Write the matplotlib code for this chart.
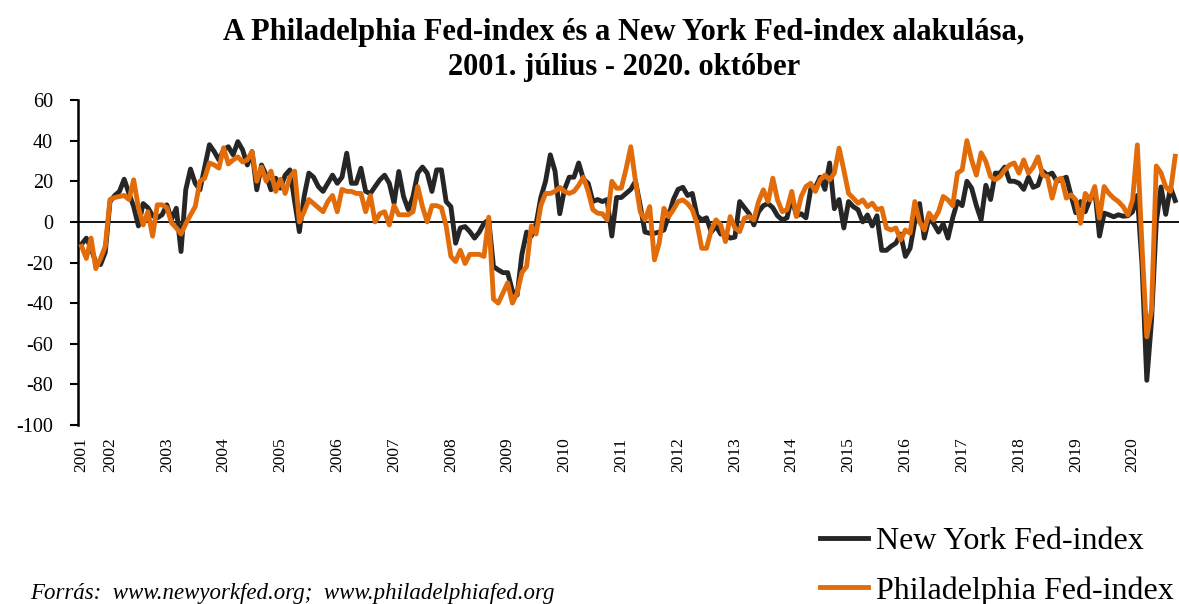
import matplotlib
matplotlib.use("Agg")
import matplotlib.pyplot as plt
import numpy as np

# Monthly data, 2001 July - 2020 October
ny_fed = [
    # 2001 Jul-Dec
    -11, -8, -13, -20, -21, -15,
    # 2002
    10, 13, 15, 21, 14, 7.5, -2, 9, 7, 3, 2, 3.5,
    # 2003
    8.4, 1.3, 6.7, -14.6, 15.8, 26, 19, 15.8, 27, 38, 34.6, 30.5,
    # 2004
    35.5, 37, 33, 39.5, 35.5, 28, 34.6, 15.8, 28, 23, 15.8, 21.5,
    # 2005
    16.6, 23, 25.6, 10, -4.8, 12.5, 24, 22, 17.4, 15, 19, 23,
    # 2006
    19, 22, 33.8, 19, 19, 26.4, 15, 14, 17.4, 20.7, 23, 19,
    # 2007
    9.2, 24.8, 12.5, 6, 12.5, 24, 27, 24, 15, 25.6, 25.6, 10,
    # 2008
    7.5, -10.5, -3, -2.3, -4.8, -8, -5, -0.7, 1, -22, -23.6, -25,
    # 2009
    -25, -34, -36, -16, -5, -7, -1, 12, 20, 33, 25, 4,
    # 2010
    16, 22, 22, 29, 21, 19, 10, 11, 10, 11, -7, 12,
    # 2011
    12, 14, 16, 20, 8, -5, -5.6, -5.6, -5, -4, 3, 11,
    # 2012
    16, 17, 13, 14, 3, 1, 2, -5, -2, -6, -6, -8,
    # 2013
    -7.5, 10, 7, 4, -1.5, 5, 8, 9, 7, 3, 1, 2,
    # 2014
    12, 3, 4, 2, 16, 17, 22, 16, 29, 6.5, 11, -3,
    # 2015
    10, 7.5, 6, 0, 3.4, -2, 3, -14, -14, -12, -10.5, -6,
    # 2016
    -17, -13, 0, 9, -8, 2, -1, -5, -1, -8, 2, 10,
    # 2017
    8, 20, 16.6, 8, 1, 18, 11, 24, 24, 27, 20, 20,
    # 2018
    19, 16, 22, 17, 18, 25, 23, 24, 20, 21, 22, 13,
    # 2019
    4.5, 10, 5, 11, 16, -7, 4.3, 3.5, 2.5, 3.5, 2.8, 3,
    # 2020 Jan-Oct
    5, 13, -21.5, -78, -48.5, -0.2, 17.2, 3.7, 17, 10.5,
]

philly_fed = [
    # 2001 Jul-Dec
    -12, -18, -8, -23, -18, -12,
    # 2002
    11, 12, 12.5, 13, 11, 20.7, 7, -1.5, 5, -7, 8.4, 8.4,
    # 2003
    7, -0.5, -3, -6, -1, 3.4, 7.5, 20, 21.5, 29, 28, 26.5,
    # 2004
    36.5, 28.5, 30.5, 32, 29.5, 30.5, 34.6, 20, 27, 20, 25, 15,
    # 2005
    21, 14, 22, 25, 0, 5, 11, 9, 7, 5, 10, 13,
    # 2006
    5, 16, 15, 15, 14, 14, 5, 13, 0, 4, 5, -1.5,
    # 2007
    8, 3.5, 3.5, 3.5, 5, 17.4, 7.5, 0, 8, 8, 7, -2,
    # 2008
    -17, -19.5, -14, -20.5, -16, -16, -16, -17, 2.3, -38, -40, -35,
    # 2009
    -30, -40, -35, -25, -22, -2, -6, 8, 14, 14, 15, 17,
    # 2010
    15, 14, 15, 18, 22, 15, 6, 4.3, 4, 1, 20, 16.6,
    # 2011
    16.6, 26, 37, 20, 5, 1, 7.5, -18.7, -10.5, 6.7, 2.6, 6,
    # 2012
    10, 10.8, 9, 6, -1, -13, -13, -4, 1, -1.5, -9.7, 2.6,
    # 2013
    -3, -4.8, 1.8, 2.6, 1, 10, 15.8, 10, 21.5, 10.8, 5, 6,
    # 2014
    15, 2.6, 12.5, 17.4, 19, 15, 20.7, 23, 20.7, 24, 36.3, 25.6,
    # 2015
    14, 11.7, 9.2, 10.8, 7.5, 9.2, 6, 6.7, -3, -4, -3, -8.9,
    # 2016
    -4, -5.6, 10, 0, -4, 4.3, 1, 5, 12.5, 10.8, 8, 24,
    # 2017
    25.6, 40, 30.5, 23, 34, 29.7, 22.3, 20.7, 22.3, 25.6, 28, 29,
    # 2018
    24, 30.5, 24, 27, 32, 23, 22.3, 11.7, 20.7, 21.5, 11.7, 13.3,
    # 2019
    10.8, -0.7, 14, 10.8, 17.4, 1.8, 17.4, 14, 11.7, 10, 7.5, 3.4,
    # 2020 Jan-Oct
    10.8, 37.9, -12.7, -56.6, -43.1, 27.5, 24.1, 17.2, 15, 32.3,
]

year_labels = ["2001"] + [str(y) for y in range(2002, 2021)]
series_labels = ["New York Fed-index", "Philadelphia Fed-index"]
title_text = ("A Philadelphia Fed-index és a New York Fed-index alakulása,\n"
              "2001. július - 2020. október")
source_text = "Forrás:  www.newyorkfed.org;  www.philadelphiafed.org"

SERIF = ["Liberation Serif", "DejaVu Serif"]
plt.rcParams["font.family"] = SERIF

months = np.arange(len(ny_fed))
tick_pos = [0] + [6 + 12 * k for k in range(19)]

fig = plt.figure(figsize=(11.79, 6.04), dpi=100)
ax = fig.add_axes([78 / 1179, 179 / 604, 1 - 78 / 1179, 325 / 604])

ax.plot(months, ny_fed, color="#262626", lw=3.5, solid_joinstyle="round",
        label=series_labels[0], zorder=3)
ax.plot(months, philly_fed, color="#E36C0A", lw=3.5, solid_joinstyle="round",
        label=series_labels[1], zorder=4)
ax.axhline(0, color="black", lw=1.3, zorder=2)

ax.set_xlim(-0.76, 231.8)
ax.set_ylim(-100, 60)
ax.set_yticks(np.arange(-100, 61, 20))
ax.set_yticklabels([str(v) for v in range(-100, 61, 20)], fontsize=14.5)
ax.set_xticks(tick_pos)
ax.set_xticklabels(year_labels, rotation=90, fontsize=12.5, va="top")

for s in ["top", "right", "bottom"]:
    ax.spines[s].set_visible(False)
ax.spines["left"].set_linewidth(1.8)
ax.tick_params(axis="y", length=6, width=1.5, pad=12, direction="out")
ax.tick_params(axis="x", length=0, pad=9)

fig.text(0.529, 1 - 50 / 604, title_text, ha="center", va="center", fontsize=22,
         fontweight="bold", linespacing=1.25)

fig.text(30 / 1179, 1 - 594 / 604, source_text, ha="left", va="center",
         fontsize=16.5, style="italic")

handles, labels = ax.get_legend_handles_labels()
fig.legend(handles, labels, loc="upper left",
           bbox_to_anchor=(820 / 1179, 1 - 527 / 604),
           frameon=False, fontsize=23, handlelength=1.5, handletextpad=0.25,
           labelspacing=0.62, borderaxespad=0, borderpad=0)

fig.savefig("out.png", dpi=100)
